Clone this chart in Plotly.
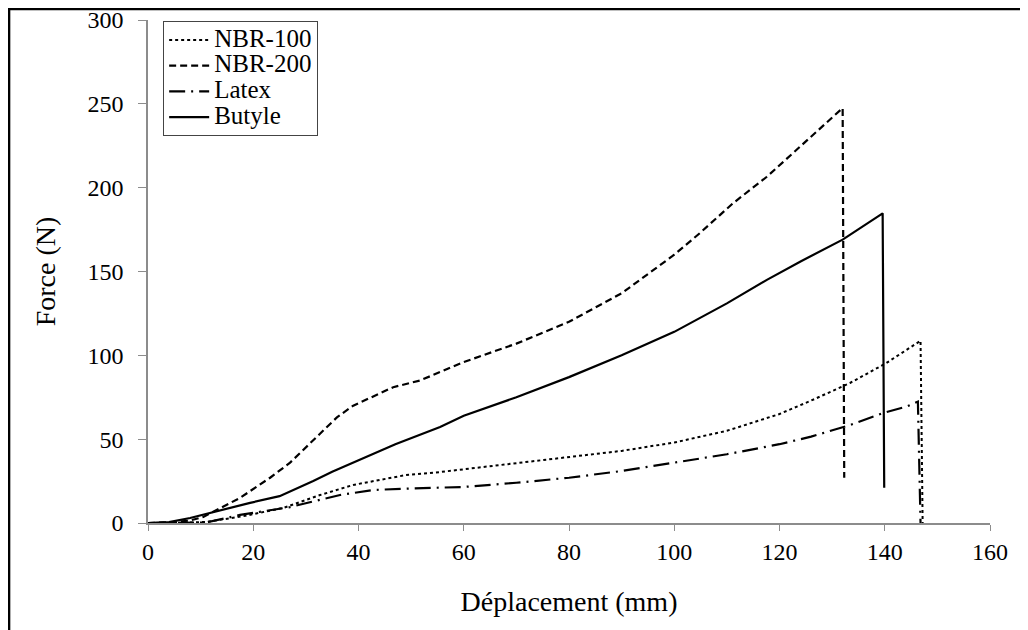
import plotly.graph_objects as go

# NBR-100 (dotted)
nbr100_x = [0, 5, 11, 18, 25.7, 32.7, 39, 49, 55.5, 60, 70, 80, 90, 100, 110, 120, 126, 133.4, 140.3, 146.8, 147.2]
nbr100_y = [0, 0, 0.6, 4, 9, 16.7, 22.7, 28.6, 30.4, 32, 35.5, 39, 43, 48, 55, 65, 73, 83.5, 95.4, 108.7, 0]

# NBR-200 (dashed)
nbr200_x = [0, 5, 8, 10.5, 17.5, 23.2, 27, 31.4, 35.9, 39, 43, 46.6, 51.7, 60, 70, 80, 90, 100, 104.9, 111.2, 117.6, 123.9, 132, 132.3]
nbr200_y = [0, 0.5, 1.5, 3.6, 15, 27, 36, 49.5, 63, 70, 76, 81, 85, 96, 107, 120, 137, 160, 173, 190.8, 206.5, 224.5, 247.5, 27]

# Latex (long dash-dot)
latex_x = [0, 5, 11, 17.5, 27, 36.5, 42.8, 50, 55.5, 60, 70, 80, 90, 100, 110, 120, 126, 133.4, 139.7, 144.1, 146.3, 146.8]
latex_y = [0, 0, 0.3, 4.8, 9.5, 16.7, 19.7, 20.6, 20.9, 21.5, 24, 27, 31, 36, 41, 47, 51.5, 58.4, 65.6, 69.4, 72.4, 0]

# Butyle (solid)
butyle_x = [0, 4, 8, 13, 19.4, 25, 28, 31.4, 35, 39.7, 47, 55.5, 60, 70, 80, 90, 100, 110, 117.6, 124, 132, 139.6, 139.9]
butyle_y = [0, 0.5, 3, 7, 12, 16, 20, 25, 30.5, 37, 47, 57.3, 64, 75, 87, 100, 114, 131, 145, 156, 169, 184.7, 21]

series_names = ["NBR-100", "NBR-200", "Latex", "Butyle"]

x_ticks = [0, 20, 40, 60, 80, 100, 120, 140, 160]
y_ticks = [0, 50, 100, 150, 200, 250, 300]

FONT = "Liberation Serif, Times New Roman, serif"


def leg(name):
    return '<span style="font-size:25px">%s</span>' % name


fig = go.Figure()
fig.add_trace(go.Scatter(x=nbr100_x, y=nbr100_y, mode="lines", name=leg(series_names[0]),
                         line=dict(color="black", width=2, dash="dot")))
fig.add_trace(go.Scatter(x=nbr200_x, y=nbr200_y, mode="lines", name=leg(series_names[1]),
                         line=dict(color="black", width=2.2, dash="7px,4px")))
fig.add_trace(go.Scatter(x=latex_x, y=latex_y, mode="lines", name=leg(series_names[2]),
                         line=dict(color="black", width=2.2, dash="16px,6px,2px,6px")))
fig.add_trace(go.Scatter(x=butyle_x, y=butyle_y, mode="lines", name=leg(series_names[3]),
                         line=dict(color="black", width=2.2)))

fig.update_layout(
    width=1020, height=622,
    margin=dict(l=140, r=38, t=12, b=107),
    paper_bgcolor="white", plot_bgcolor="white",
    font=dict(family=FONT, size=24, color="black"),
    showlegend=True,
    legend=dict(x=0.018, y=0.998, xanchor="left", yanchor="top",
                bgcolor="white", bordercolor="#444", borderwidth=1,
                font=dict(family=FONT, size=17.5), tracegroupgap=0,
                itemwidth=40),
    xaxis=dict(range=[0, 160], tickvals=x_ticks, showgrid=False, zeroline=False,
               showline=True, linecolor="#8c8c8c", linewidth=1.5,
               ticks="outside", tickcolor="#8c8c8c", ticklen=6,
               ticklabelstandoff=0, automargin=False,
               tickfont=dict(family=FONT, size=24),
               title=dict(text="Déplacement (mm)", font=dict(family=FONT, size=28), standoff=28)),
    yaxis=dict(range=[0, 300], tickvals=y_ticks, showgrid=False, zeroline=False,
               showline=True, linecolor="#8c8c8c", linewidth=1.5,
               ticks="outside", tickcolor="#8c8c8c", ticklen=8,
               ticklabelstandoff=10, ticklabeloverflow="allow", automargin=False,
               tickfont=dict(family=FONT, size=24),
               title=dict(text="Force (N)", font=dict(family=FONT, size=28), standoff=24)),
    shapes=[dict(type="rect", xref="paper", yref="paper",
                 x0=-0.165, x1=1.2, y0=-0.4, y1=1.022,
                 line=dict(color="black", width=2.5), layer="above")],
)

fig.write_html("out.html")
